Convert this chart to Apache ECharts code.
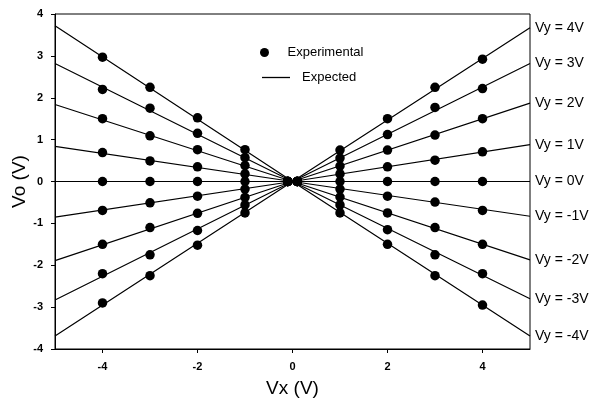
<!DOCTYPE html>
<html>
<head>
<meta charset="utf-8">
<script src="https://cdn.jsdelivr.net/npm/echarts@6/dist/echarts.min.js"></script>
<style>
html, body { margin: 0; padding: 0; background: #fff; }
#main { width: 590px; height: 398px; }
</style>
</head>
<body>
<div id="main"></div>
<script>
// Vy = 4V ... -4V
var vyLabels = ['Vy = 4V', 'Vy = 3V', 'Vy = 2V', 'Vy = 1V', 'Vy = 0V', 'Vy = -1V', 'Vy = -2V', 'Vy = -3V', 'Vy = -4V'];

// expected lines: value at Vx=-5, Vx=0, Vx=5
var expX = [-5, 0, 5];
var expLeft = [3.72, 2.82, 1.84, 0.84, 0, -0.85, -1.89, -2.83, -3.69];
var expMid = [0, 0, 0, 0, 0, 0, 0, 0, 0];
var expRight = [3.67, 2.82, 1.87, 0.88, 0, -0.83, -1.87, -2.8, -3.69];

// experimental points
var vxPoints = [-4, -3, -2, -1, -0.1, 0.1, 1, 2, 3, 4];
var vo4 = [2.97, 2.25, 1.52, 0.76, 0, 0, 0.75, 1.5, 2.25, 2.92];
var vo3 = [2.2, 1.75, 1.15, 0.57, 0, 0, 0.56, 1.12, 1.77, 2.22];
var vo2 = [1.5, 1.09, 0.76, 0.38, 0, 0, 0.37, 0.75, 1.11, 1.5];
var vo1 = [0.69, 0.49, 0.35, 0.18, 0, 0, 0.18, 0.35, 0.51, 0.71];
var vo0 = [0, 0, 0, 0, 0, 0, 0, 0, 0, 0];
var voM1 = [-0.69, -0.51, -0.35, -0.18, 0, 0, -0.18, -0.35, -0.49, -0.69];
var voM2 = [-1.5, -1.1, -0.76, -0.38, 0, 0, -0.37, -0.75, -1.1, -1.5];
var voM3 = [-2.2, -1.75, -1.17, -0.56, 0, 0, -0.56, -1.15, -1.75, -2.2];
var voM4 = [-2.9, -2.25, -1.52, -0.75, 0, 0, -0.75, -1.5, -2.25, -2.95];
var measured = [vo4, vo3, vo2, vo1, vo0, voM1, voM2, voM3, voM4];

// x tick labels
var xTicks = [-4, -2, 0, 2, 4];

var chart = echarts.init(document.getElementById('main'));
var font = '"Liberation Sans", Arial, sans-serif';

var series = [];
for (var i = 0; i < vyLabels.length; i++) {
	series.push({
		name: 'Expected',
		type: 'line',
		symbol: 'none',
		silent: true,
		color: '#000',
		lineStyle: { color: '#000', width: 1.2 },
		data: [[expX[0], expLeft[i]], [expX[1], expMid[i]], [expX[2], expRight[i]]],
		endLabel: {
			show: true,
			formatter: vyLabels[i],
			color: '#000',
			fontSize: 14,
			fontFamily: font,
			distance: 5
		}
	});
}

var pts = [];
for (var i = 0; i < measured.length; i++) {
	for (var j = 0; j < vxPoints.length; j++) {
		pts.push([vxPoints[j], measured[i][j]]);
	}
}
series.push({
	name: 'Experimental',
	type: 'scatter',
	symbol: 'circle',
	symbolSize: 9.5,
	color: '#000',
	itemStyle: { color: '#000', opacity: 1 },
	data: pts,
	z: 5
});

var option = {
	backgroundColor: '#fff',
	animation: false,
	grid: {
		left: 55, right: 60, top: 14, bottom: 49,
		outerBoundsMode: 'none',
		containLabel: false,
		show: true, borderColor: '#000', borderWidth: 1
	},
	legend: [{
		data: [{ name: 'Experimental', icon: 'circle' }],
		left: 255, top: 41,
		itemWidth: 20, itemHeight: 9,
		itemStyle: { color: '#000', opacity: 1 },
		textStyle: { color: '#000', fontSize: 13, fontFamily: font, padding: [0, 0, 0, 8] },
		selectedMode: false
	}, {
		data: [{ name: 'Expected', icon: 'rect' }],
		left: 257, top: 66,
		itemWidth: 28, itemHeight: 1.3,
		itemStyle: { color: '#000' },
		lineStyle: { color: '#000' },
		textStyle: { color: '#000', fontSize: 13, fontFamily: font, padding: [0, 0, 0, 7] },
		selectedMode: false
	}],
	xAxis: {
		type: 'value',
		min: -5, max: 5, interval: 1,
		name: 'Vx (V)',
		nameLocation: 'middle',
		nameGap: 30,
		nameTextStyle: { color: '#000', fontSize: 19, fontFamily: font },
		axisLine: { onZero: false, lineStyle: { color: '#000', width: 1 } },
		axisTick: { show: true, length: 4, lineStyle: { color: '#000' }, customValues: xTicks },
		axisLabel: {
			color: '#000', fontSize: 11, fontWeight: 'bold', fontFamily: font, margin: 12,
			customValues: xTicks
		},
		splitLine: { show: false }
	},
	yAxis: {
		type: 'value',
		min: -4, max: 4, interval: 1,
		name: 'Vo (V)',
		nameLocation: 'middle',
		nameGap: 26,
		nameMoveOverlap: false,
		nameTextStyle: { color: '#000', fontSize: 19, fontFamily: font },
		axisLine: { onZero: false, lineStyle: { color: '#000', width: 1 } },
		axisTick: { show: true, length: 4, lineStyle: { color: '#000' } },
		axisLabel: { color: '#000', fontSize: 11, fontWeight: 'bold', fontFamily: font, margin: 12 },
		splitLine: { show: false }
	},
	series: series
};
chart.setOption(option);
</script>
</body>
</html>
